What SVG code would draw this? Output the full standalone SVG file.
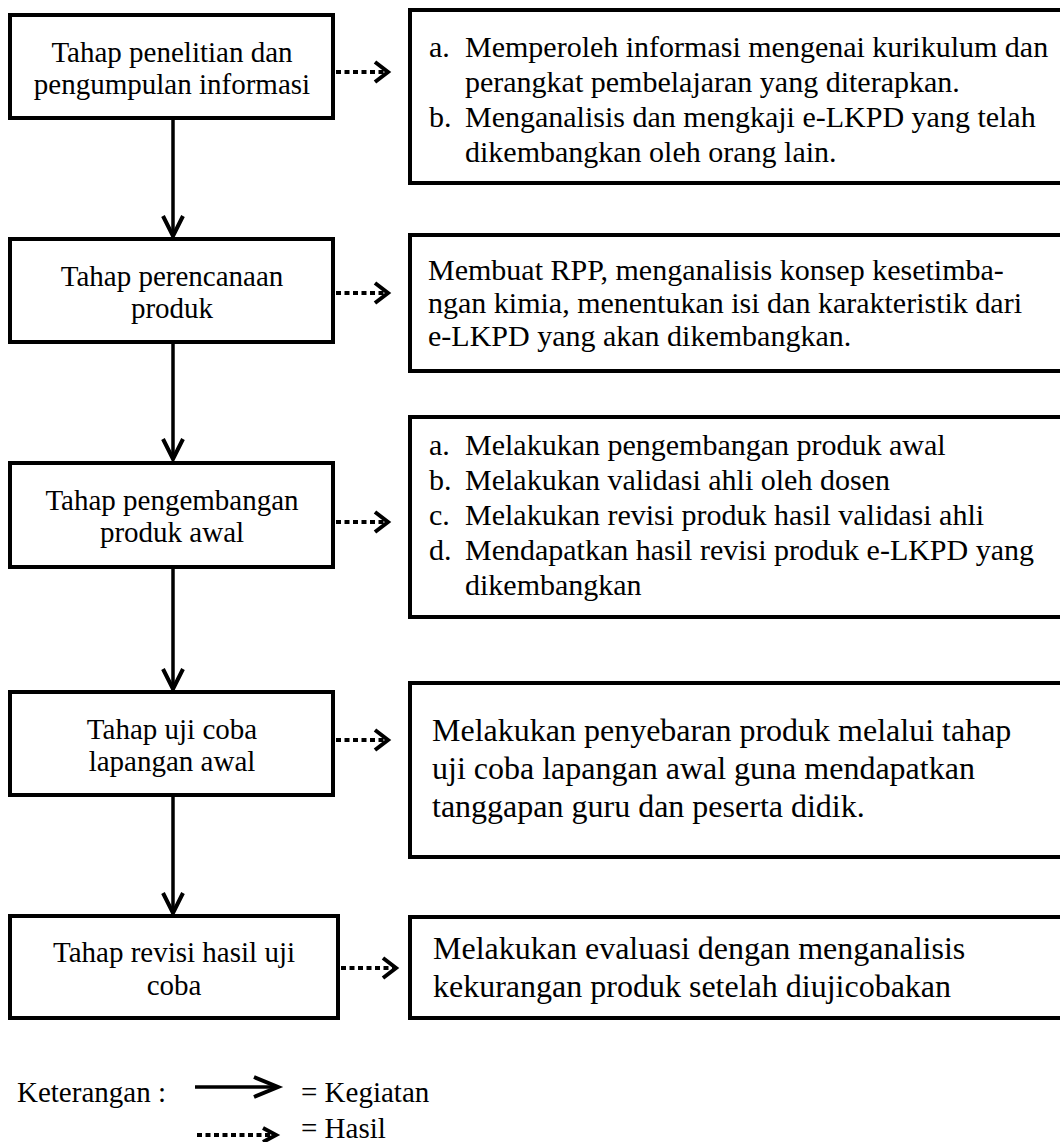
<svg xmlns="http://www.w3.org/2000/svg" width="1060" height="1142" viewBox="0 0 1060 1142">
<style>
.box{fill:#fff;stroke:#000;stroke-width:4}
.t{font-family:"Liberation Serif","Times New Roman",serif;font-size:29px;fill:#000}
.c{text-anchor:middle}
.r{font-size:30px}
.big{font-size:32px}
.solid{fill:none;stroke:#000;stroke-width:3.5}
.dot{fill:none;stroke:#000;stroke-width:4;stroke-dasharray:5 3.5}
</style>
<defs>
<marker id="vhead" markerUnits="userSpaceOnUse" viewBox="-24 -13 26 26" markerWidth="26" markerHeight="26" refX="0" refY="0" orient="auto" overflow="visible">
<path d="M-20,-10 L0,0 L-20,10" fill="none" stroke="#000" stroke-width="4" stroke-dasharray="none"/>
</marker>
<marker id="dhead" markerUnits="userSpaceOnUse" viewBox="-16 -13 18 26" markerWidth="18" markerHeight="26" refX="0" refY="0" orient="auto" overflow="visible">
<path d="M-13,-10 L0,0 L-13,10" fill="none" stroke="#000" stroke-width="4" stroke-dasharray="none"/>
</marker>
<marker id="lhead" markerUnits="userSpaceOnUse" viewBox="-28 -13 30 26" markerWidth="30" markerHeight="26" refX="0" refY="0" orient="auto" overflow="visible">
<path d="M-24,-10 L0,0 L-24,10" fill="none" stroke="#000" stroke-width="4" stroke-dasharray="none"/>
</marker>
<marker id="lhead2" markerUnits="userSpaceOnUse" viewBox="-16 -10 18 20" markerWidth="18" markerHeight="20" refX="0" refY="0" orient="auto" overflow="visible">
<path d="M-13,-7 L0,0 L-13,7" fill="none" stroke="#000" stroke-width="4" stroke-dasharray="none"/>
</marker>
</defs>

<g id="connectors">
<path class="solid" d="M173,118 V236" marker-end="url(#vhead)"/>
<path class="solid" d="M173,342 V459" marker-end="url(#vhead)"/>
<path class="solid" d="M173,567 V689" marker-end="url(#vhead)"/>
<path class="solid" d="M173,795 V913" marker-end="url(#vhead)"/>
<path class="dot" d="M336,72 H388" marker-end="url(#dhead)"/>
<path class="dot" d="M336,293 H388" marker-end="url(#dhead)"/>
<path class="dot" d="M336,522 H388" marker-end="url(#dhead)"/>
<path class="dot" d="M336,740 H388" marker-end="url(#dhead)"/>
<path class="dot" d="M341,968 H396" marker-end="url(#dhead)"/>
</g>

<g id="step1">
<rect class="box" x="10" y="15" width="323" height="103"/>
<text class="t c" x="172" y="62">Tahap penelitian dan</text>
<text class="t c" x="172" y="94">pengumpulan informasi</text>
</g>
<g id="result1">
<rect class="box" x="410" y="10" width="700" height="173"/>
<text class="t r" x="429" y="57">a.</text>
<text class="t r" x="465" y="57">Memperoleh informasi mengenai kurikulum dan</text>
<text class="t r" x="465" y="92">perangkat pembelajaran yang diterapkan.</text>
<text class="t r" x="429" y="127">b.</text>
<text class="t r" x="465" y="127">Menganalisis dan mengkaji e-LKPD yang telah</text>
<text class="t r" x="465" y="162">dikembangkan oleh orang lain.</text>
</g>

<g id="step2">
<rect class="box" x="10" y="239" width="323" height="103"/>
<text class="t c" x="172" y="286">Tahap perencanaan</text>
<text class="t c" x="172" y="318">produk</text>
</g>
<g id="result2">
<rect class="box" x="410" y="235" width="700" height="136"/>
<text class="t r" x="428" y="280">Membuat RPP, menganalisis konsep kesetimba-</text>
<text class="t r" x="428" y="313">ngan kimia, menentukan isi dan karakteristik dari</text>
<text class="t r" x="428" y="346">e-LKPD yang akan dikembangkan.</text>
</g>

<g id="step3">
<rect class="box" x="10" y="463" width="323" height="104"/>
<text class="t c" x="172" y="510">Tahap pengembangan</text>
<text class="t c" x="172" y="542">produk awal</text>
</g>
<g id="result3">
<rect class="box" x="410" y="417" width="700" height="200"/>
<text class="t r" x="429" y="455">a.</text>
<text class="t r" x="465" y="455">Melakukan pengembangan produk awal</text>
<text class="t r" x="429" y="490">b.</text>
<text class="t r" x="465" y="490">Melakukan validasi ahli oleh dosen</text>
<text class="t r" x="429" y="525">c.</text>
<text class="t r" x="465" y="525">Melakukan revisi produk hasil validasi ahli</text>
<text class="t r" x="429" y="560">d.</text>
<text class="t r" x="465" y="560">Mendapatkan hasil revisi produk e-LKPD yang</text>
<text class="t r" x="465" y="595">dikembangkan</text>
</g>

<g id="step4">
<rect class="box" x="10" y="692" width="323" height="103"/>
<text class="t c" x="172" y="739">Tahap uji coba</text>
<text class="t c" x="172" y="771">lapangan awal</text>
</g>
<g id="result4">
<rect class="box" x="410" y="683" width="700" height="174"/>
<text class="t big" x="432" y="741">Melakukan penyebaran produk melalui tahap</text>
<text class="t big" x="432" y="779">uji coba lapangan awal guna mendapatkan</text>
<text class="t big" x="432" y="817">tanggapan guru dan peserta didik.</text>
</g>

<g id="step5">
<rect class="box" x="10" y="916" width="328" height="102"/>
<text class="t c" x="174" y="962">Tahap revisi hasil uji</text>
<text class="t c" x="174" y="995">coba</text>
</g>
<g id="result5">
<rect class="box" x="410" y="917" width="700" height="101"/>
<text class="t big" x="433" y="959">Melakukan evaluasi dengan menganalisis</text>
<text class="t big" x="433" y="997">kekurangan produk setelah diujicobakan</text>
</g>

<g id="legend">
<text class="t" x="17" y="1102">Keterangan :</text>
<path class="solid" d="M195,1087 H278" marker-end="url(#lhead)"/>
<text class="t" x="301" y="1102">= Kegiatan</text>
<path class="dot" d="M197,1135 H276" marker-end="url(#lhead2)"/>
<text class="t" x="301" y="1138">= Hasil</text>
</g>
</svg>
